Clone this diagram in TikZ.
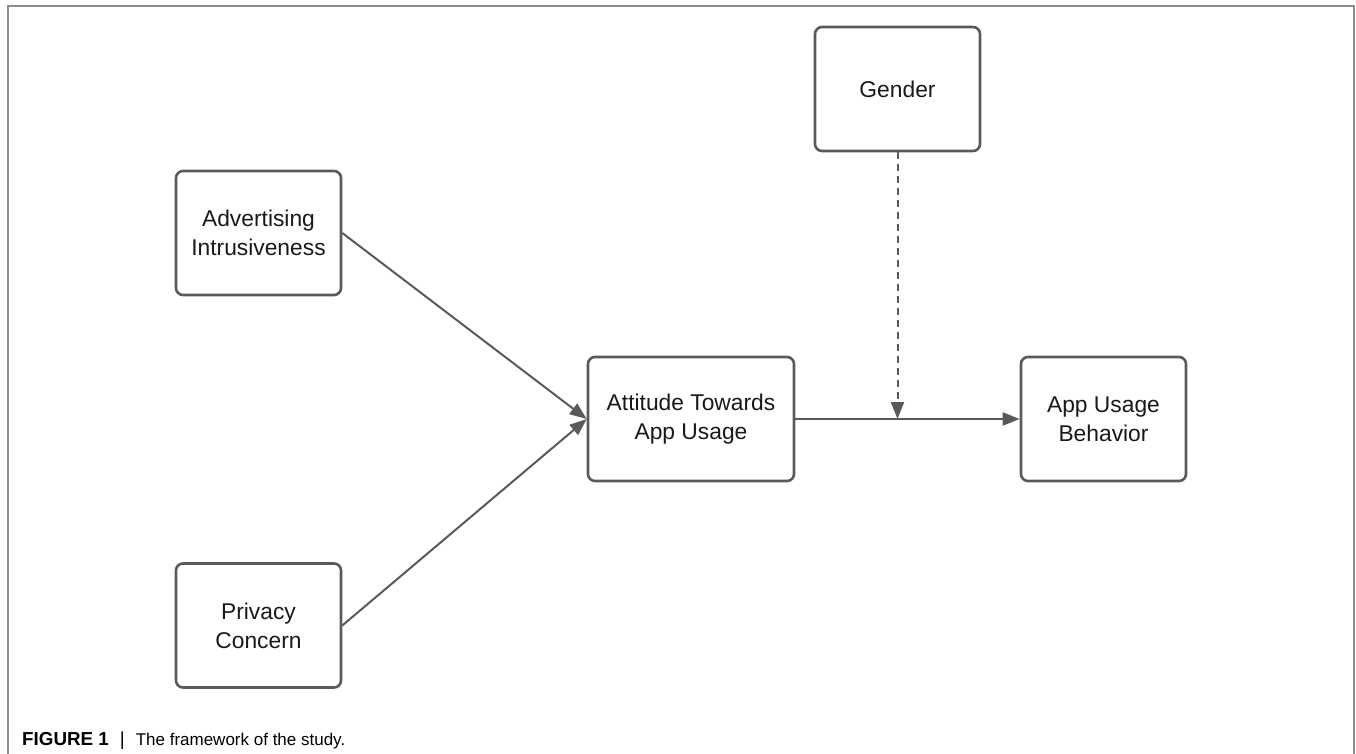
\documentclass[tikz,border=0pt]{standalone}
\usepackage{fontspec}
\setmainfont{Liberation Sans}
\usetikzlibrary{arrows.meta}
\usetikzlibrary{positioning}
\definecolor{boxgray}{HTML}{5A5A5A}
\definecolor{framegray}{HTML}{8C8C8C}

\begin{document}
\begin{tikzpicture}[x=1pt,y=-1pt,
    var/.style={draw=boxgray,line width=2.6pt,rounded corners=7pt,minimum width=165pt,minimum height=124pt,align=center,font=\fontsize{22.8}{29}\selectfont,text=black!90},
    link/.style={draw=boxgray,line width=2pt,-{Triangle[length=17pt,width=13pt]}}]
    \useasboundingbox (0,0) rectangle (1356,754);
    \draw[framegray,line width=1.5pt] (8,754) -- (8,6) -- (1354,6) -- (1354,754);
    \node[var] (adv) at (258.5,233) {Advertising\\Intrusiveness};
    \node[var] (priv) at (258.5,625.5) {Privacy\\Concern};
    \node[var,minimum width=206pt] (att) at (691,419) {Attitude Towards\\App Usage};
    \node[var] (beh) at (1103.5,419) {App Usage\\Behavior};
    \node[var] (gen) at (897.5,89) {Gender};
    \coordinate (mod) at (897.5,419);
    \draw[link] (adv.east) -- (att.west);
    \draw[link] (priv.east) -- (att.west);
    \draw[link] (att.east) -- (beh.west);
    \draw[link,dash pattern=on 7pt off 5pt] (gen.south) -- (mod);
    \node[anchor=base west,inner sep=0pt] (cap) at (22,745) {\fontsize{18.8}{20}\selectfont\bfseries FIGURE 1\hspace{11pt}\mdseries|\hspace{11pt}\fontsize{17}{20}\selectfont The framework of the study.};
\end{tikzpicture}
\end{document}
